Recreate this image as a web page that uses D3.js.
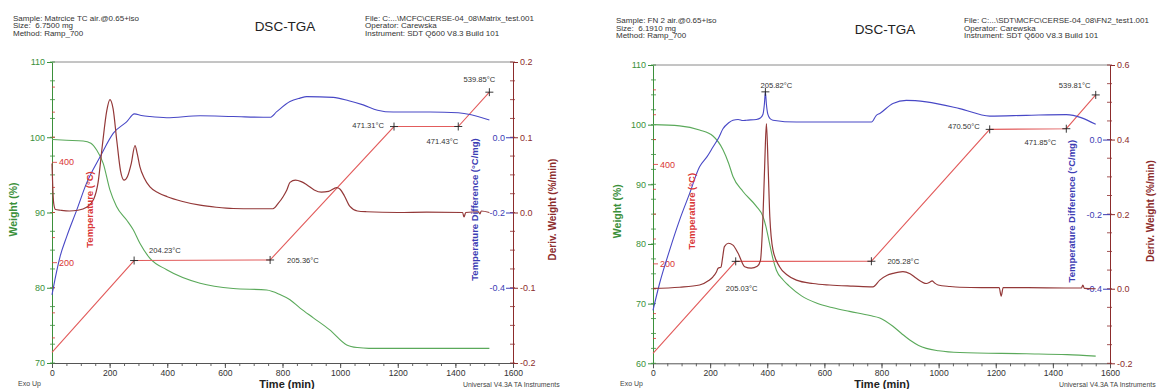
<!DOCTYPE html>
<html>
<head>
<meta charset="utf-8">
<script src="https://cdn.jsdelivr.net/npm/d3@7"></script>
<style>
  html, body { margin: 0; padding: 0; background: #fff; }
  svg text { font-family: "Liberation Sans", Arial, sans-serif; white-space: pre; }
</style>
</head>
<body>
<svg id="chart" width="1158" height="389"></svg>
<script>
// ---- Shared axis values ----
const timeTicks = [0, 200, 400, 600, 800, 1000, 1200, 1400, 1600];
const tempDomain = [0, 600];
const tempLabelTicks = [200, 400];
const tdDomain = [-0.6, 0.2];
const tdTicks = [0.0, -0.2, -0.4];

// ---- Matrix sample (left run) ----
const matrixHeader = ["Sample: Matrcice TC air.@0.65+iso", "Size:  6.7500 mg", "Method: Ramp_700"];
const matrixFile = ["File: C:...\\MCFC\\CERSE-04_08\\Matrix_test.001", "Operator: Carewska", "Instrument: SDT Q600 V8.3 Build 101"];
const matrixWeightTicks = [70, 80, 90, 100, 110];
const matrixDerivTicks = [-0.2, -0.1, 0.0, 0.1, 0.2];
// [time (min), weight (%)]
const matrixWeight = [[0,99.7],[50,99.6],[108,99.5],[135,99.2],[155,98.3],[178,96.5],[201,93.0],[224,90.8],[259,89.0],[282,87.7],[305,85.9],[340,83.9],[398,82.4],[514,80.6],[629,79.9],[745,79.7],[791,79.1],[826,78.4],[861,77.3],[907,76.0],[964,74.4],[1023,72.4],[1060,72.05],[1100,71.95],[1200,71.95],[1518,71.95]];
// [time (min), temperature difference (°C/mg)]
const matrixTd = [[0,-0.419],[10,-0.379],[28,-0.317],[51,-0.264],[86,-0.193],[120,-0.122],[167,-0.052],[213,0.011],[259,0.041],[286,0.062],[310,0.058],[340,0.055],[398,0.052],[514,0.057],[629,0.055],[757,0.053],[780,0.068],[826,0.095],[861,0.104],[884,0.108],[976,0.106],[1030,0.097],[1080,0.086],[1130,0.072],[1184,0.067],[1312,0.067],[1410,0.065],[1518,0.046]];
// [time (min), deriv. weight (%/min)]
const matrixDeriv = [[0,0.065],[3,0.03],[6,0.012],[12,0.004],[30,0.003],[60,0.002],[90,0.003],[120,0.007],[145,0.018],[160,0.04],[175,0.09],[190,0.135],[201,0.150],[212,0.138],[225,0.095],[238,0.055],[250,0.043],[262,0.048],[275,0.065],[288,0.089],[296,0.078],[305,0.061],[320,0.046],[340,0.034],[370,0.026],[400,0.021],[450,0.015],[514,0.0097],[570,0.007],[629,0.0053],[700,0.005],[767,0.005],[785,0.012],[802,0.021],[815,0.030],[826,0.040],[845,0.043],[865,0.041],[884,0.037],[910,0.030],[935,0.027],[960,0.028],[988,0.033],[1000,0.031],[1015,0.022],[1034,0.008],[1060,0.002],[1092,0.001],[1200,0],[1300,0.0005],[1425,0],[1430,-0.006],[1436,0],[1480,0.001],[1485,-0.002],[1490,0.002],[1518,0]];
// [time (min), temperature (°C)] – program segments
const matrixTemp = [[0,21],[285,204.23],[757,205.36],[1187,471.31],[1410,471.43],[1518,539.85]];

// ---- FN 2 sample (right run) ----
const fn2Header = ["Sample: FN 2 air.@0.65+iso", "Size:  6.1910 mg", "Method: Ramp_700"];
const fn2File = ["File: C:...\\SDT\\MCFC\\CERSE-04_08\\FN2_test1.001", "Operator: Carewska", "Instrument: SDT Q600 V8.3 Build 101"];
const fn2WeightTicks = [60, 70, 80, 90, 100, 110];
const fn2DerivTicks = [-0.2, 0.0, 0.2, 0.4, 0.6];
const fn2Weight = [[0,100.0],[93,99.8],[163,99.1],[210,98.1],[245,95.8],[265,93.5],[280,91.3],[315,88.8],[362,86.3],[385,84.6],[395,83.0],[408,80.1],[420,77.5],[432,75.6],[455,74.0],[478,72.9],[520,71.3],[572,70.1],[630,69.3],[688,68.7],[760,68.0],[794,67.6],[840,66.2],[870,65.0],[899,63.9],[930,63.0],[957,62.5],[1000,62.1],[1074,61.8],[1307,61.6],[1450,61.45],[1550,61.2]];
const fn2Td = [[0,-0.458],[23,-0.386],[58,-0.297],[93,-0.216],[128,-0.145],[163,-0.073],[190,-0.045],[210,-0.020],[230,0.005],[245,0.029],[265,0.045],[280,0.052],[298,0.054],[315,0.051],[327,0.052],[362,0.054],[376,0.058],[385,0.068],[390,0.095],[393.5,0.128],[397,0.095],[402,0.068],[410,0.056],[420,0.052],[502,0.047],[677,0.047],[765,0.047],[782,0.065],[794,0.070],[840,0.097],[887,0.105],[957,0.101],[1074,0.083],[1179,0.063],[1307,0.065],[1447,0.067],[1550,0.041]];
const fn2Deriv = [[0,0.001],[93,0.004],[163,0.010],[195,0.022],[210,0.032],[222,0.045],[228,0.055],[238,0.058],[244,0.085],[250,0.113],[264,0.122],[280,0.117],[298,0.095],[321,0.059],[344,0.055],[365,0.060],[376,0.075],[385,0.193],[391,0.33],[397,0.443],[403,0.33],[409,0.193],[420,0.104],[443,0.059],[470,0.037],[502,0.023],[560,0.014],[618,0.010],[700,0.007],[770,0.005],[794,0.023],[820,0.036],[840,0.041],[875,0.046],[900,0.040],[922,0.028],[957,0.014],[970,0.018],[977,0.021],[985,0.016],[998,0.010],[1040,0.006],[1074,0.004],[1150,0.003],[1212,0.003],[1219,-0.02],[1226,0.003],[1307,0.003],[1450,0.002],[1500,0.002],[1505,0.01],[1510,0.001],[1550,0]];
const fn2Temp = [[0,20],[289.6,205.03],[764.6,205.28],[1178.8,470.50],[1447,471.85],[1550,539.81]];
// exotherm peak on the heat-flow trace: [time (min), temperature (°C)]
const fn2Peak = [393.5, 205.82];

// ---- Styling ----
const COL = {
  weightLine: "#5aa95a", weightText: "#3b903b",
  tempLine: "#e25c5c", tempText: "#d93636",
  tdLine: "#4848c6", tdText: "#3c3cb4",
  derivLine: "#933838", derivText: "#8c2c2c",
  frame: "#8a8a8a", text: "#333"
};

const svg = d3.select("#chart");

const panels = [
  {
    header: matrixHeader, fileInfo: matrixFile,
    weight: matrixWeight, td: matrixTd, deriv: matrixDeriv, temp: matrixTemp, peak: null,
    weightDomain: [70, 110], weightTicks: matrixWeightTicks,
    derivDomain: [-0.2, 0.2], derivTicks: matrixDerivTicks, derivMinor: 0.025,
    box: { left: 52, right: 513, top: 62, bottom: 363 },
    headY: 20.5, headX: 13, titleX: 285, fileX: 365,
    titles: { weight: 13, temp: 90, td: 475, deriv: 552 },
    foot: { exo: 18, time: 287, univ: 463 },
    // label offsets for the temperature markers [dx, dy, anchor]
    tempLabels: [null, [15, -10, "start"], [17, 0, "start"], [-10, -1, "end"], [0, 15, "end"], [-10, -13, "middle"]],
    peakLabel: null
  },
  {
    header: fn2Header, fileInfo: fn2File,
    weight: fn2Weight, td: fn2Td, deriv: fn2Deriv, temp: fn2Temp, peak: fn2Peak,
    weightDomain: [60, 110], weightTicks: fn2WeightTicks,
    derivDomain: [-0.2, 0.6], derivTicks: fn2DerivTicks, derivMinor: 0.05,
    box: { left: 653, right: 1110, top: 65, bottom: 363.3 },
    headY: 23, headX: 616, titleX: 885, fileX: 964,
    titles: { weight: 617, temp: 692, td: 1072, deriv: 1150 },
    foot: { exo: 620, time: 882, univ: 1059 },
    tempLabels: [null, [6, 27, "middle"], [16, 0, "start"], [-10, -3, "end"], [-10, 14, "end"], [-21, -10, "middle"]],
    peakLabel: [11, -7, "middle"]
  }
];

const fmt1 = d => d.toFixed(1);

panels.forEach(p => {
  const b = p.box;
  const g = svg.append("g");

  const x = d3.scaleLinear().domain([0, 1600]).range([b.left, b.right]);
  const yW = d3.scaleLinear().domain(p.weightDomain).range([b.bottom, b.top]);
  const yT = d3.scaleLinear().domain(tempDomain).range([b.bottom, b.top]);
  const yD = d3.scaleLinear().domain(tdDomain).range([b.bottom, b.top]);
  const yR = d3.scaleLinear().domain(p.derivDomain).range([b.bottom, b.top]);

  // header
  const hd = g.append("g").attr("font-size", 8).attr("fill", COL.text);
  p.header.forEach((t, i) => hd.append("text").attr("x", p.headX).attr("y", p.headY + i * 7.5).text(t));
  p.fileInfo.forEach((t, i) => hd.append("text").attr("x", p.fileX).attr("y", p.headY + i * 7.5).text(t));
  g.append("text").attr("x", p.titleX).attr("y", p.headY + 10.5).attr("text-anchor", "middle")
    .attr("font-size", 13.5).attr("fill", "#222").text("DSC-TGA");

  // top frame
  g.append("line").attr("x1", b.left).attr("x2", b.right).attr("y1", b.top).attr("y2", b.top)
    .attr("stroke", COL.frame).attr("stroke-width", 1);

  // time axis
  const xMinor = g.append("g").attr("transform", `translate(0,${b.bottom})`)
    .call(d3.axisBottom(x).tickValues(d3.range(0, 1601, 50)).tickSize(3).tickFormat(""));
  xMinor.select(".domain").remove();
  xMinor.selectAll("line").attr("stroke", "#666");
  const xAx = g.append("g").attr("transform", `translate(0,${b.bottom})`)
    .call(d3.axisBottom(x).tickValues(timeTicks).tickSize(5).tickSizeOuter(0).tickPadding(2).tickFormat(d3.format("d")));
  xAx.select(".domain").attr("stroke", "#555");
  xAx.selectAll("line").attr("stroke", "#555");
  xAx.selectAll("text").attr("font-size", 8.6).attr("fill", COL.text).attr("font-family", null);

  // weight axis (left)
  g.append("g").selectAll("line").data(d3.range(p.weightDomain[0], p.weightDomain[1] + 0.01, 2.5)).join("line")
    .attr("x1", b.left - 2).attr("x2", b.left + 3).attr("y1", d => yW(d)).attr("y2", d => yW(d))
    .attr("stroke", COL.weightText).attr("stroke-width", 0.8);
  const wAx = g.append("g").attr("transform", `translate(${b.left},0)`)
    .call(d3.axisLeft(yW).tickValues(p.weightTicks).tickSize(5).tickSizeOuter(0).tickPadding(2).tickFormat(d3.format("d")));
  wAx.select(".domain").attr("stroke", COL.weightText);
  wAx.selectAll("line").attr("stroke", COL.weightText);
  wAx.selectAll("text").attr("font-size", 9).attr("fill", COL.weightText).attr("font-family", null);

  // temperature ticks along the inner left edge
  g.append("g").selectAll("line").data(d3.range(tempDomain[0] + 50, tempDomain[1], 50)).join("line")
    .attr("x1", b.left).attr("x2", d => b.left + (tempLabelTicks.includes(d) ? 5 : 3))
    .attr("y1", d => yT(d)).attr("y2", d => yT(d))
    .attr("stroke", COL.tempText).attr("stroke-width", 0.8);
  g.append("g").selectAll("text").data(tempLabelTicks).join("text")
    .attr("x", b.left + 7).attr("y", d => yT(d)).attr("dy", "0.35em")
    .attr("font-size", 9).attr("fill", COL.tempText).text(d => d);

  // deriv. weight axis (right)
  g.append("g").selectAll("line").data(d3.range(p.derivDomain[0], p.derivDomain[1] + 1e-9, p.derivMinor)).join("line")
    .attr("x1", b.right - 3).attr("x2", b.right + 2).attr("y1", d => yR(d)).attr("y2", d => yR(d))
    .attr("stroke", COL.derivText).attr("stroke-width", 0.8);
  const rAx = g.append("g").attr("transform", `translate(${b.right},0)`)
    .call(d3.axisRight(yR).tickValues(p.derivTicks).tickSize(5).tickSizeOuter(0).tickPadding(2).tickFormat(fmt1));
  rAx.select(".domain").attr("stroke", COL.derivText);
  rAx.selectAll("line").attr("stroke", COL.derivText);
  rAx.selectAll("text").attr("font-size", 9).attr("fill", COL.derivText).attr("font-family", null);

  // temperature difference labels (inside the right edge)
  const tAx = g.append("g").attr("transform", `translate(${b.right},0)`)
    .call(d3.axisLeft(yD).tickValues(tdTicks).tickSize(7).tickPadding(1).tickFormat(fmt1));
  tAx.select(".domain").remove();
  tAx.selectAll("line").attr("stroke", COL.tdText);
  tAx.selectAll("text").attr("font-size", 9).attr("fill", COL.tdText).attr("font-family", null);

  // curves
  const mk = (ys, curve) => d3.line().x(d => x(d[0])).y(d => ys(d[1])).curve(curve);
  g.append("path").datum(p.weight).attr("d", mk(yW, d3.curveMonotoneX))
    .attr("fill", "none").attr("stroke", COL.weightLine).attr("stroke-width", 1.1);
  g.append("path").datum(p.temp).attr("d", mk(yT, d3.curveLinear))
    .attr("fill", "none").attr("stroke", COL.tempLine).attr("stroke-width", 1.1);
  g.append("path").datum(p.td).attr("d", mk(yD, d3.curveMonotoneX))
    .attr("fill", "none").attr("stroke", COL.tdLine).attr("stroke-width", 1.1);
  g.append("path").datum(p.deriv).attr("d", mk(yR, d3.curveMonotoneX))
    .attr("fill", "none").attr("stroke", COL.derivLine).attr("stroke-width", 1.2);

  // markers and temperature labels
  const cross = "M-4,0H4M0,-4V4";
  p.temp.forEach((d, i) => {
    const off = p.tempLabels[i];
    if (!off) return;
    const cx = x(d[0]), cy = yT(d[1]);
    g.append("path").attr("d", cross).attr("transform", `translate(${cx},${cy})`)
      .attr("stroke", "#222").attr("stroke-width", 0.9).attr("fill", "none");
    g.append("text").attr("x", cx + off[0]).attr("y", cy + off[1]).attr("dy", "0.35em")
      .attr("text-anchor", off[2]).attr("font-size", 7.6).attr("fill", COL.text)
      .text(d[1].toFixed(2) + "°C");
  });
  if (p.peak) {
    const tdAtPeak = p.td.find(d => d[0] === p.peak[0])[1];
    const cx = x(p.peak[0]), cy = yD(tdAtPeak);
    const off = p.peakLabel;
    g.append("path").attr("d", cross).attr("transform", `translate(${cx},${cy})`)
      .attr("stroke", "#222").attr("stroke-width", 0.9).attr("fill", "none");
    g.append("text").attr("x", cx + off[0]).attr("y", cy + off[1]).attr("dy", "0.35em")
      .attr("text-anchor", off[2]).attr("font-size", 7.6).attr("fill", COL.text)
      .text(p.peak[1].toFixed(2) + "°C");
  }

  // axis titles
  const midY = (b.top + b.bottom) / 2;
  const vTitle = (xp, txt, col, size) => g.append("text")
    .attr("transform", `translate(${xp},${midY - 3}) rotate(-90)`)
    .attr("text-anchor", "middle").attr("dy", "0.35em")
    .attr("font-size", size).attr("font-weight", "bold").attr("fill", col).text(txt);
  vTitle(p.titles.weight, "Weight (%)", COL.weightText, 10.5);
  vTitle(p.titles.temp, "Temperature (°C)", COL.tempText, 9.5);
  vTitle(p.titles.td, "Temperature Difference (°C/mg)", COL.tdText, 9.5);
  vTitle(p.titles.deriv, "Deriv. Weight (%/min)", COL.derivText, 10);

  g.append("text").attr("x", p.foot.time).attr("y", 388).attr("text-anchor", "middle")
    .attr("font-size", 11).attr("font-weight", "bold").attr("fill", "#222").text("Time (min)");
  g.append("text").attr("x", p.foot.exo).attr("y", 386).attr("font-size", 7).attr("fill", "#444").text("Exo Up");
  g.append("text").attr("x", p.foot.univ).attr("y", 386.5).attr("font-size", 6.9).attr("fill", "#444")
    .text("Universal V4.3A TA Instruments");
});
</script>
</body>
</html>
